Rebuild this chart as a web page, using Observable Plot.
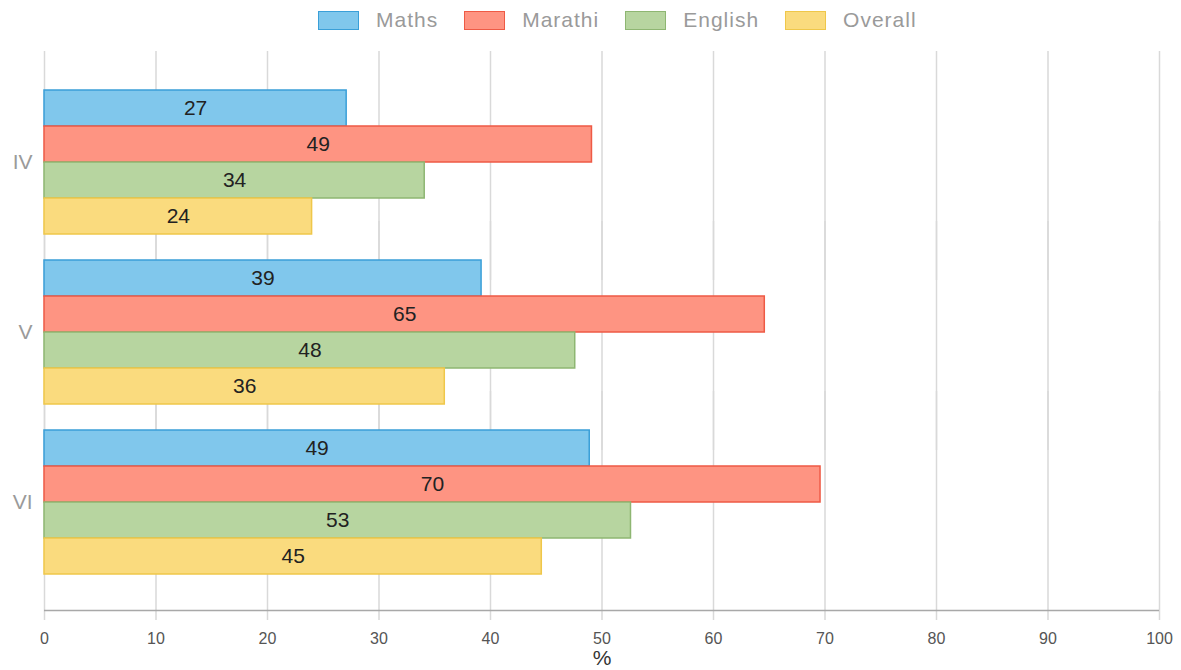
<!DOCTYPE html>
<html>
<head>
<meta charset="utf-8">
<script src="https://cdn.jsdelivr.net/npm/d3@7"></script>
<script src="https://cdn.jsdelivr.net/npm/@observablehq/plot@0.6"></script>
<style>
  html, body { margin: 0; padding: 0; background: #fff; }
  body { width: 1181px; height: 670px; overflow: hidden; font-family: "Liberation Sans", Arial, sans-serif; }
  #legend { height: 40px; display: flex; justify-content: flex-start; align-items: center; padding-left: 318px; box-sizing: border-box; }
  .item { display: flex; align-items: center; margin-right: 26px; }
  .sw { width: 39px; height: 17px; border: 1.5px solid; margin-right: 17px; }
  .lab { font-size: 21px; color: #9a9a9a; letter-spacing: 1px; }
</style>
</head>
<body>
<div id="legend"></div>
<div id="chart"></div>
<script>
const groups = ["IV", "V", "VI"];
const series = ["Maths", "Marathi", "English", "Overall"];
const maths   = [27.1, 39.2, 48.9];
const marathi = [49.1, 64.6, 69.6];
const english = [34.1, 47.6, 52.6];
const overall = [24.0, 35.9, 44.6];
const xTicks = [0, 10, 20, 30, 40, 50, 60, 70, 80, 90, 100];
const fills   = ["#80C7EC", "#FE9482", "#B7D5A0", "#FADB7E"];
const strokes = ["#3A9FD8", "#EE5A45", "#8EB672", "#EFC74A"];

const valuesBySeries = [maths, marathi, english, overall];
const data = [];
groups.forEach((g, gi) => {
  series.forEach((s, si) => {
    data.push({group: g, series: s, value: valuesBySeries[si][gi], fill: fills[si], stroke: strokes[si]});
  });
});

// legend
const legend = document.getElementById("legend");
series.forEach((s, i) => {
  const it = document.createElement("div");
  it.className = "item";
  it.innerHTML = `<div class="sw" style="background:${fills[i]};border-color:${strokes[i]}"></div><span class="lab">${s}</span>`;
  legend.appendChild(it);
});

const lastGroup = groups[groups.length - 1];
const lastSeries = series[series.length - 1];

const chart = Plot.plot({
  width: 1181,
  height: 630,
  marginTop: 49,
  marginBottom: 94,
  marginLeft: 44,
  marginRight: 22,
  style: {fontFamily: "'Liberation Sans', Arial, sans-serif", background: "#fff", overflow: "visible"},
  x: {domain: [0, 100], ticks: xTicks},
  y: {domain: series, padding: 0, axis: null},
  fy: {domain: groups, paddingInner: 0.152, paddingOuter: 0},
  color: {type: "identity"},
  marks: [
    // vertical gridlines (extended across facet gaps and down into the tick marks)
    Plot.ruleX(xTicks, {stroke: "#d9d9d9", strokeWidth: 1.5, insetTop: -39, insetBottom: -46}),
    // baseline of the x axis, under the last group
    Plot.ruleY([lastSeries], {y: d => d, fy: () => lastGroup, dy: 54, stroke: "#a8a8a8", strokeWidth: 1.5}),
    Plot.barX(data, {x: "value", y: "series", fy: "group", fill: "fill", stroke: "stroke", strokeWidth: 1.5}),
    Plot.text(data, {x: d => d.value / 2, y: "series", fy: "group", text: d => String(Math.round(d.value)), fontSize: 21, fill: "#222"}),
    Plot.axisX({ticks: xTicks, tickSize: 0, tickPadding: 58, fontSize: 16, color: "#555", label: null}),
    Plot.axisX({ticks: [], tickSize: 0, fontSize: 21, color: "#333", label: "%", labelAnchor: "center", labelArrow: "none", labelOffset: 90}),
    Plot.axisFy({anchor: "left", tickSize: 0, tickPadding: 12, fontSize: 21, color: "#9a9a9a", label: null})
  ]
});
document.getElementById("chart").appendChild(chart);
</script>
</body>
</html>
